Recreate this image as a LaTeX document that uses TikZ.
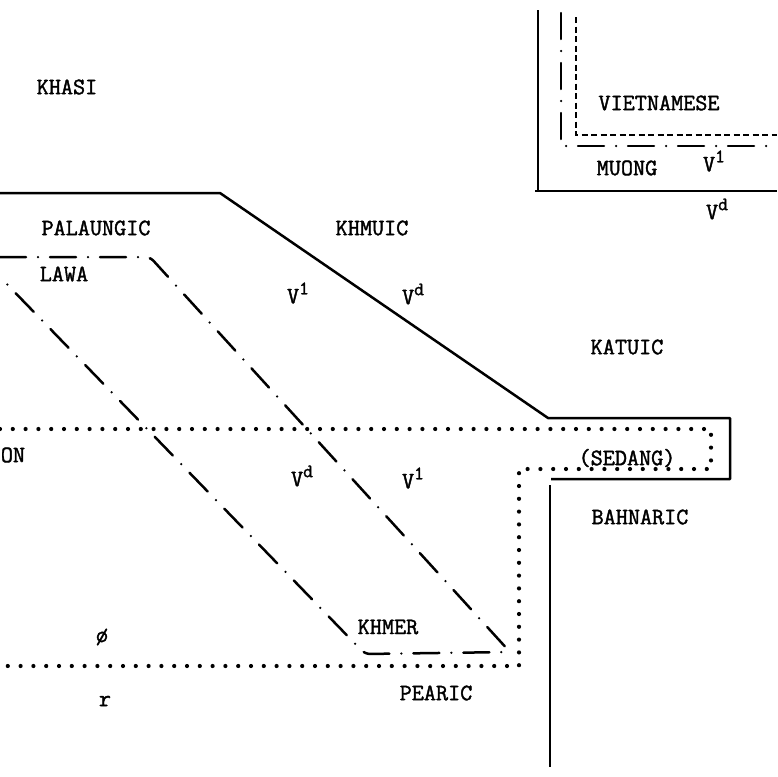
\documentclass[tikz,border=0pt]{standalone}
\usepackage{fontspec}
\newfontfamily\twfont{Latin Modern Mono}[FakeBold=1.6]
\newcommand\supx[1]{\raisebox{9pt}{\fontsize{19}{22}\selectfont #1}}
\begin{document}
\begin{tikzpicture}[x=1pt,y=-1pt,
  lbl/.style={font=\fontsize{23.5}{28}\selectfont\twfont, inner sep=0pt},
  solidl/.style={line width=2.5pt, line join=round},
  dashdotl/.style={line width=2.5pt, line cap=round, dash pattern=on 26pt off 12pt on 0pt off 12pt},
  dottedl/.style={line width=4.2pt, line cap=round, dash pattern=on 0pt off 12.8pt},
  dashedl/.style={line width=2.2pt, dash pattern=on 6pt off 3.5pt}]
\useasboundingbox (0,0) rectangle (777,777);
% top right isoglosses
\draw[solidl] (538,10) -- (538,192);
\draw[solidl] (535,191) -- (777,191);
\draw[dashdotl] (561,13) -- (561,146) -- (777,146);
\draw[dashedl] (576,17) -- (576,135) -- (777,135);
% main solid boundary
\draw[solidl] (0,193) -- (220,193) -- (548,418) -- (730,418) -- (730,479) -- (551,479);
\draw[solidl] (550,485) -- (550,767);
% dotted boundary
\draw[dottedl] (0,429) -- (711,429) -- (711,469) -- (519,469) -- (519,666) -- (0,666);
% dash-dot Khmer band
\draw[dashdotl, rounded corners=5pt] (0,257) -- (150,257) -- (510,652) -- (365,654) -- (0,277);
% labels
\node[lbl] (khasi) at (67,87) {KHASI};
\node[lbl] (viet) at (659,103) {VIETNAMESE};
\node[lbl] (muong) at (627,168) {MUONG};
\node[lbl] (v1a) at (714,161) {V\supx{1}};
\node[lbl] (vda) at (717,209) {V\supx{d}};
\node[lbl] (palaung) at (96,228) {PALAUNGIC};
\node[lbl] (lawa) at (64,274) {LAWA};
\node[lbl] (khmuic) at (372,228) {KHMUIC};
\node[lbl] (v1b) at (298,293) {V\supx{1}};
\node[lbl] (vdb) at (413,294) {V\supx{d}};
\node[lbl] (katuic) at (627,347) {KATUIC};
\node[lbl] (mon) at (13,455) {ON};
\node[lbl] (vdc) at (302,476) {V\supx{d}};
\node[lbl] (v1c) at (413,478) {V\supx{1}};
\node[lbl] (sedang) at (627,458) {(SEDANG)};
\node[lbl] (bahnaric) at (640,517) {BAHNARIC};
\node[lbl] (zero) at (102,637) {ø};
\node[lbl] (khmer) at (388,627) {KHMER};
\node[lbl] (r) at (105,701) {r};
\node[lbl] (pearic) at (436,693) {PEARIC};
\end{tikzpicture}
\end{document}
